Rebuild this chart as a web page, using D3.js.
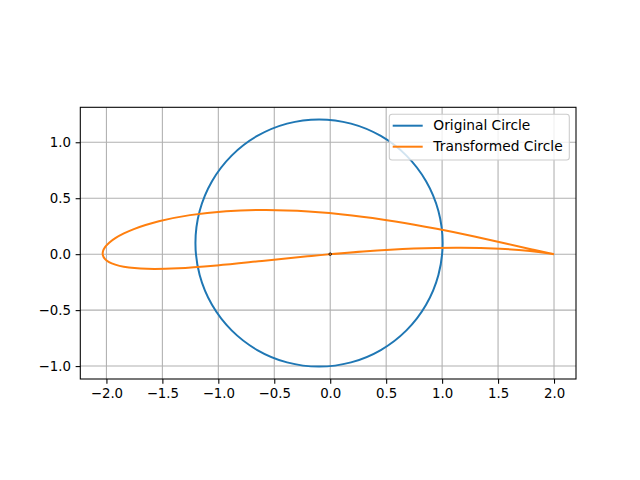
<!DOCTYPE html>
<html><head><meta charset="utf-8">
<script src="https://cdn.jsdelivr.net/npm/d3@7"></script>
<style>body{margin:0;background:#fff}svg{display:block}</style>
</head><body>
<script>
// Data (Joukowski-type airfoil)
const circleX = [1.00454,0.96690,0.85656,0.68103,0.45227,0.18588,-0.1,-0.38588,-0.65227,-0.88103,-1.05656,-1.16690,-1.20454,-1.16690,-1.05656,-0.88103,-0.65227,-0.38588,-0.1,0.18588,0.45227,0.68103,0.85656,0.96690];
const circleY = [0.1,0.38588,0.65227,0.88103,1.05656,1.16690,1.20454,1.16690,1.05656,0.88103,0.65227,0.38588,0.1,-0.18588,-0.45227,-0.68103,-0.85656,-0.96690,-1.00454,-0.96690,-0.85656,-0.68103,-0.45227,-0.18588];
const transX = [2.0,1.94891,1.80355,1.57819,1.28853,0.95164,0.58212,0.19533,-0.19446,-0.57404,-0.93080,-1.25365,-1.53130,-1.65031,-1.75497,-1.84417,-1.91699,-1.97277,-2.01081,-2.03063,-2.03179,-2.01396,-1.97697,-1.92068,-1.84521,-1.63729,-1.35735,-1.01108,-0.60930,-0.16759,0.29328,0.74713,1.16553,1.51889,1.78416,1.94637,2.0];
const transY = [0.0,0.01033,0.04226,0.09350,0.15800,0.22730,0.29280,0.34642,0.38173,0.39465,0.38348,0.34894,0.29420,0.26073,0.22413,0.18535,0.14522,0.10475,0.06486,0.02652,-0.00934,-0.04185,-0.07023,-0.09379,-0.11198,-0.13093,-0.12633,-0.10092,-0.06105,-0.01583,0.02441,0.05070,0.05833,0.04847,0.02833,0.00855,0.0];
const originPoint = [0, 0];
const xTicks = [-2.0,-1.5,-1.0,-0.5,0.0,0.5,1.0,1.5,2.0];
const yTicks = [-1.0,-0.5,0.0,0.5,1.0];
const seriesNames = ["Original Circle","Transformed Circle"];
const seriesColors = ["#1f77b4","#ff7f0e"];

const W=640,H=480;
const L=80.3,R=576,T=107.3,B=379;
const svg=d3.select("body").append("svg").attr("width",W).attr("height",H);
const x=d3.scaleLinear().domain([-2.2335,2.1965]).range([L,R]);
const y=d3.scaleLinear().domain([-1.1155,1.3125]).range([B,T]);
const font="DejaVu Sans, sans-serif";
const fmt=v=>(v<0?"\u2212":"")+Math.abs(v).toFixed(1);

const g=svg.append("g");
// grid
g.selectAll(".gx").data(xTicks).enter().append("line")
 .attr("x1",d=>x(d)).attr("x2",d=>x(d)).attr("y1",T).attr("y2",B)
 .attr("stroke","#b0b0b0").attr("stroke-width",1.07);
g.selectAll(".gy").data(yTicks).enter().append("line")
 .attr("y1",d=>y(d)).attr("y2",d=>y(d)).attr("x1",L).attr("x2",R)
 .attr("stroke","#b0b0b0").attr("stroke-width",1.07);

// axes
const xAxis=d3.axisBottom(x).tickValues(xTicks).tickFormat(fmt).tickSizeInner(4.67).tickSizeOuter(0).tickPadding(4.67);
const yAxis=d3.axisLeft(y).tickValues(yTicks).tickFormat(fmt).tickSizeInner(4.67).tickSizeOuter(0).tickPadding(4.67);
const ax=svg.append("g").attr("transform",`translate(0,${B})`).call(xAxis);
const ay=svg.append("g").attr("transform",`translate(${L},0)`).call(yAxis);
[ax,ay].forEach(a=>{
  a.select(".domain").remove();
  a.selectAll(".tick line").attr("stroke","#000").attr("stroke-width",1.07);
  a.selectAll(".tick text").attr("font-family",font).attr("font-size","13.33px").attr("fill","#000");
});

const circlePts=circleX.map((v,i)=>[v,circleY[i]]);
const transPts=transX.map((v,i)=>[v,transY[i]]);
const lineClosed=d3.line().x(d=>x(d[0])).y(d=>y(d[1])).curve(d3.curveCatmullRomClosed.alpha(0.5));
const lineOpen=d3.line().x(d=>x(d[0])).y(d=>y(d[1])).curve(d3.curveCatmullRom.alpha(0.5));

const clip=svg.append("clipPath").attr("id","clip").append("rect").attr("x",L).attr("y",T).attr("width",R-L).attr("height",B-T);
const pg=svg.append("g").attr("clip-path","url(#clip)");
pg.append("path").attr("d",lineClosed(circlePts)).attr("fill","none").attr("stroke",seriesColors[0]).attr("stroke-width",2);
pg.append("path").attr("d",lineOpen(transPts)).attr("fill","none").attr("stroke",seriesColors[1]).attr("stroke-width",2).attr("stroke-linejoin","round");
pg.append("circle").attr("cx",x(originPoint[0])).attr("cy",y(originPoint[1])).attr("r",1.3).attr("fill","none").attr("stroke","#000").attr("stroke-width",0.8);

// spines
svg.append("rect").attr("x",L).attr("y",T).attr("width",R-L).attr("height",B-T).attr("fill","none").attr("stroke","#000").attr("stroke-width",1.07);

// legend
const lg=svg.append("g");
lg.append("rect").attr("x",389.3).attr("y",114.2).attr("width",180).attr("height",45.8).attr("rx",2.8)
 .attr("fill","#fff").attr("fill-opacity",0.8).attr("stroke","#cccccc").attr("stroke-width",1.07);
const textLens=[97,129.4];
seriesNames.forEach((n,i)=>{
  const yy=125.7+i*21;
  lg.append("line").attr("x1",392.7).attr("x2",422.7).attr("y1",yy).attr("y2",yy).attr("stroke",seriesColors[i]).attr("stroke-width",2);
  lg.append("text").attr("x",433.3).attr("y",yy).attr("dy","0.35em").attr("font-family",font).attr("font-size","13.33px").attr("fill","#000")
    .attr("textLength",textLens[i]).attr("lengthAdjust","spacingAndGlyphs").text(n);
});
</script>
</body></html>
